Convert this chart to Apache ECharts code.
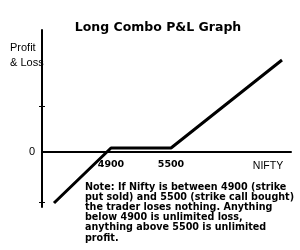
<!DOCTYPE html>
<html><head><meta charset="utf-8">
<script src="https://cdn.jsdelivr.net/npm/echarts@6/dist/echarts.min.js"></script>
<style>html,body{margin:0;padding:0;background:#fff}#c{width:300px;height:250px}</style>
</head><body><div id="c"></div>
<script>
// NIFTY level (x) and P&L (y) of the long combo payoff line
const niftyLevels = [4330, 4900, 5500, 6610];
const pnlValues = [-510, 40, 40, 920];
const strikeLabels = [4900, 5500];
const yTickValues = [460, -500];
const yLabelValues = [0];
const titleText = 'Long Combo P&L Graph';
const yAxisTitle = 'Profit\n& Loss';
const xAxisTitle = 'NIFTY';
const noteLines = [
  'Note: If Nifty is between 4900 (strike',
  'put sold) and 5500 (strike call bought)',
  'the trader loses nothing. Anything',
  'below 4900 is unlimited loss,',
  'anything above 5500 is unlimited',
  'profit.'
];

const chart = echarts.init(document.getElementById('c'), null, {renderer: 'canvas'});
const yCommon = {type: 'value', min: -550, max: 1220, splitLine: {show: false}};
chart.setOption({
  animation: false,
  backgroundColor: '#fff',
  title: [
    {text: titleText, left: 153, top: 15, textAlign: 'center',
     textStyle: {fontFamily: 'DejaVu Sans', fontWeight: 'bold', fontSize: 12.5, color: '#000', lineHeight: 15}},
    {text: yAxisTitle, left: 5, top: 36,
     textStyle: {fontFamily: 'Liberation Sans', fontWeight: 'normal', fontSize: 11, color: '#000', lineHeight: 14.4}},
    {text: xAxisTitle, left: 263, top: 155, textAlign: 'center',
     textStyle: {fontFamily: 'Liberation Sans', fontWeight: 'normal', fontSize: 10.5, color: '#000', lineHeight: 12}},
    {text: noteLines.join('\n'), left: 80, top: 177,
     textStyle: {fontFamily: 'DejaVu Sans', fontWeight: 'bold', fontSize: 9.6, color: '#000', lineHeight: 10.2}}
  ],
  grid: {left: 42, right: 9, top: 30, bottom: 43},
  xAxis: {
    type: 'value', min: 4210, max: 6700,
    offset: -55,
    splitLine: {show: false},
    axisLine: {onZero: false, lineStyle: {color: '#000', width: 2}},
    axisTick: {show: false},
    axisLabel: {customValues: strikeLabels, margin: 8, color: '#000',
      formatter: v => String(v),
      fontFamily: 'DejaVu Sans', fontWeight: 'bold', fontSize: 9.5}
  },
  yAxis: [
    Object.assign({}, yCommon, {
      axisLine: {show: true, onZero: false, lineStyle: {color: '#000', width: 2}},
      axisTick: {show: true, customValues: yTickValues, length: 3, lineStyle: {color: '#000', width: 1}},
      axisLabel: {customValues: yLabelValues, margin: 7, color: '#000',
        fontFamily: 'Liberation Sans', fontSize: 11}
    }),
    Object.assign({}, yCommon, {
      position: 'left',
      axisLine: {show: false, onZero: false},
      axisTick: {show: true, inside: true, customValues: yTickValues, length: 3, lineStyle: {color: '#000', width: 1}},
      axisLabel: {show: false}
    })
  ],
  series: [{
    type: 'line',
    data: niftyLevels.map((x, i) => [x, pnlValues[i]]),
    symbol: 'none',
    lineStyle: {color: '#000', width: 3},
    z: 3
  }]
});
</script></body></html>
